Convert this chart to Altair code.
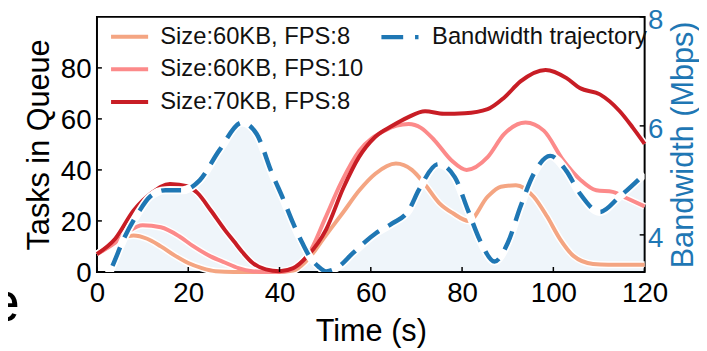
import altair as alt
import pandas as pd

# ---------------- data ----------------
series_names = ["Size:60KB, FPS:8", "Size:60KB, FPS:10", "Size:70KB, FPS:8"]
series_colors = ["#f4a582", "#fc8a8a", "#c81d25"]

t_60_8 = [0, 3, 5, 8, 11, 14, 17, 20, 23, 26, 30, 35, 40, 43, 46, 50, 54, 57.5, 61, 65.5,
          69, 72, 75, 78, 81.5, 85.6, 88.5, 91.8, 95.7, 98.6, 101.5, 104.4, 108.7, 112, 116, 120]
q_60_8 = [7, 10.5, 13, 14.3, 13, 10, 6.5, 3.5, 1.5, 0.3, 0, 0, 0, 0.5, 4.5, 14, 23.5, 32, 38.5, 42.5,
          40, 34, 27, 23, 20, 29.5, 33.4, 34, 29.5, 21.8, 12.8, 6.3, 3.1, 2.8, 2.8, 2.8]

t_60_10 = [0, 4, 7, 10, 14, 18, 21, 25, 28, 31, 34, 37, 40, 42, 45, 47, 50, 53.5, 57.5, 63,
           68.3, 71, 74, 77.7, 81, 85.6, 89.2, 93.9, 97.9, 102.2, 106, 109.4, 113, 116, 120]
q_60_10 = [7, 11.5, 16, 18.3, 17.5, 14, 10.2, 6, 3.7, 1.5, 0.3, 0, 0, 0.5, 4, 9, 21, 35, 47.5, 55.4,
           58, 56.5, 51.5, 43.7, 40, 45, 54, 58.6, 55.4, 43.7, 36, 32, 31.4, 29, 25.7]

t_70_8 = [0, 4, 8, 12, 16, 20, 22, 25, 28, 30, 32, 34, 37, 40, 43, 46, 50.2, 54, 57.4, 61,
          64.7, 68, 71.9, 76, 80.6, 85.6, 89.2, 92.8, 98.3, 102.9, 105.8, 110.2, 114.5, 117.4, 120]
q_70_8 = [7, 13, 24, 31, 34.5, 33.5, 31, 24, 16.5, 12, 7.5, 3.7, 1, 0.3, 1.5, 6, 16.6, 33, 45, 53,
          57.3, 60.5, 63, 62, 62.2, 63.8, 68.3, 74.7, 79.2, 76, 72.1, 69.6, 63.1, 56.6, 50.2]

bw_name = ["Bandwidth trajectory"]
bw_color = ["#1f77b4"]
t_bw = [0, 3, 6, 9, 11.6, 15, 18.8, 22.5, 26.8, 31.8, 35, 38.3, 41, 43, 45, 46.6, 48.5, 50.2, 53, 56,
        61.1, 64.7, 68.3, 70.5, 74.8, 78.4, 81.3, 84.2, 87.1, 90, 92.8, 95.7, 99.3, 102.8, 105.8, 110.2, 114.5, 120]
bw = [2.95, 3.36, 3.95, 4.4, 4.7, 4.82, 4.82, 5.0, 5.55, 6.06, 5.85, 5.14, 4.62, 4.21, 3.85, 3.6, 3.42, 3.33, 3.42, 3.66,
      4.03, 4.21, 4.45, 4.82, 5.3, 5.06, 4.45, 3.85, 3.51, 3.85, 4.52, 5.12, 5.45, 5.18, 4.76, 4.42, 4.7, 5.12]

x_ticks = [0, 20, 40, 60, 80, 100, 120]
left_ticks = [0, 20, 40, 60, 80]
right_ticks = [4, 6, 8]
stray_text = ["e"]

# ---------------- tables ----------------
rows = []
for name, ts, qs in zip(series_names, [t_60_8, t_60_10, t_70_8], [q_60_8, q_60_10, q_70_8]):
    for t, q in zip(ts, qs):
        rows.append({"t": t, "q": q, "series": name})
queue_df = pd.DataFrame(rows)
bw_df = pd.DataFrame({"t": t_bw, "bw": bw, "name": bw_name[0]})

W, H = 554, 258
FONT = "Liberation Sans"
BLUE = bw_color[0]
LEG_SHAPE = "M-1.25,0H1.25"

x_scale = alt.Scale(domain=[0, 120], nice=False)
left_scale = alt.Scale(domain=[0, 100], nice=False, zero=False)
right_scale = alt.Scale(domain=[3.32, 8], nice=False, zero=False)

x_enc = alt.X("t:Q", scale=x_scale, axis=alt.Axis(
    values=x_ticks, title="Time (s)", titleY=69, titleBaseline="alphabetic",
    labelPadding=8, labelFlush=False))

# fill under bandwidth
area = alt.Chart(bw_df).mark_area(color=BLUE, opacity=0.07, interpolate="monotone", clip=True).encode(
    x=alt.X("t:Q", scale=x_scale),
    y=alt.Y("bw:Q", scale=right_scale, axis=None),
    y2=alt.value(H),
)

halo = alt.Chart(queue_df).mark_line(color="white", strokeWidth=7, interpolate="monotone").encode(
    x=x_enc,
    y=alt.Y("q:Q", scale=left_scale, axis=None),
    detail="series:N",
)

lines = alt.Chart(queue_df).mark_line(strokeWidth=4, interpolate="monotone").encode(
    x=x_enc,
    y=alt.Y("q:Q", scale=left_scale, axis=alt.Axis(
        values=left_ticks, title="Tasks in Queue", orient="left",
        titleX=-49, titleBaseline="alphabetic", labelPadding=6, labelOffset=2)),
    color=alt.Color("series:N", scale=alt.Scale(domain=series_names, range=series_colors),
                    sort=series_names,
                    legend=alt.Legend(orient="none", legendX=16, legendY=3, title=None,
                                      symbolType=LEG_SHAPE, symbolStrokeWidth=4, symbolSize=900,
                                      labelFont=FONT, labelFontSize=24, labelOffset=14,
                                      labelLimit=0, rowPadding=4, padding=0, direction="vertical")),
)

bw_halo = alt.Chart(bw_df).mark_line(color="white", strokeWidth=8, interpolate="monotone", clip=True).encode(
    x=alt.X("t:Q", scale=x_scale),
    y=alt.Y("bw:Q", scale=right_scale, axis=None),
)

bw_line = alt.Chart(bw_df).mark_line(strokeWidth=4.5, strokeDash=[20, 11], interpolate="monotone", clip=True).encode(
    x=alt.X("t:Q", scale=x_scale),
    y=alt.Y("bw:Q", scale=right_scale, axis=alt.Axis(
        values=right_ticks, orient="right", title="Bandwidth (Mbps)",
        titleAngle=270, titleX=48, titleBaseline="alphabetic",
        labelColor=BLUE, titleColor=BLUE, labelPadding=3, labelOffset=3.5)),
    color=alt.Color("name:N", scale=alt.Scale(domain=bw_name, range=bw_color),
                    legend=alt.Legend(orient="none", legendX=289, legendY=3, title=None,
                                      symbolType=LEG_SHAPE, symbolStrokeWidth=4.5, symbolSize=900,
                                      symbolDash=[22, 12],
                                      labelFont=FONT, labelFontSize=24, labelOffset=15,
                                      labelLimit=0, padding=0)),
)

# inward ticks
xt = alt.Chart(pd.DataFrame({"v": x_ticks})).mark_rule(color="black", strokeWidth=1.5).encode(
    x=alt.X("v:Q", scale=x_scale), y=alt.value(H - 5), y2=alt.value(H))
lt = alt.Chart(pd.DataFrame({"v": left_ticks})).mark_rule(color="black", strokeWidth=1.5).encode(
    y=alt.Y("v:Q", scale=left_scale, axis=None), x=alt.value(0), x2=alt.value(5))
rt = alt.Chart(pd.DataFrame({"v": right_ticks})).mark_rule(color="black", strokeWidth=1.5).encode(
    y=alt.Y("v:Q", scale=right_scale, axis=None), x=alt.value(W - 5), x2=alt.value(W))

stray = alt.Chart(pd.DataFrame({"s": stray_text})).mark_text(
    font=FONT, fontSize=57, align="right", baseline="alphabetic", color="black").encode(
    text="s:N", x=alt.value(-78), y=alt.value(308))

chart = alt.layer(area, halo, lines, bw_halo, bw_line, xt, lt, rt, stray).resolve_scale(
    y="independent", color="independent"
).properties(
    width=W, height=H,
    autosize=alt.AutoSizeParams(type="none"),
    padding={"left": 90, "top": 7, "right": 55, "bottom": 78},
).configure_view(
    stroke="black", strokeWidth=2
).configure_axis(
    labelFont=FONT, labelFontSize=28, labelColor="black",
    titleFont=FONT, titleFontSize=31, titleFontWeight="normal", titleColor="black",
    ticks=False, domain=False, grid=False,
).configure_legend(
    labelColor="#111"
)

chart.save("out.html", embed_options={"renderer": "svg", "actions": False})
